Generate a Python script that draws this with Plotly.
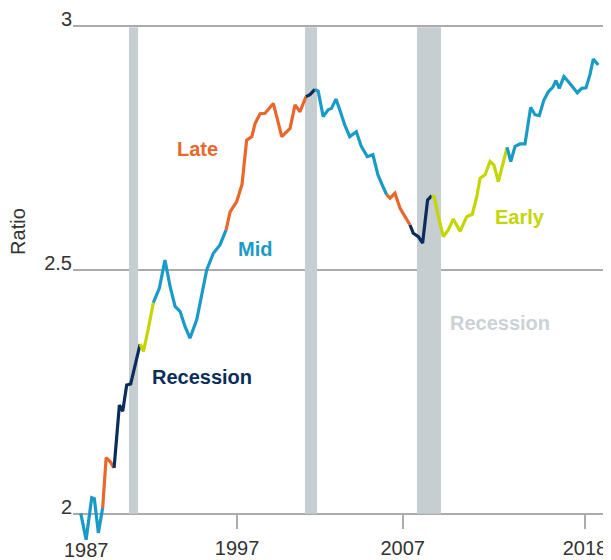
import plotly.graph_objects as go

# quarterly-ish readings of the ratio, with business-cycle phase per point
years = [1987.57, 1987.89, 1988.23, 1988.39, 1988.63, 1988.89,
         1989.10, 1989.34, 1989.58,
         1989.90, 1990.10, 1990.34, 1990.58, 1990.95, 1991.15,
         1991.35, 1991.65, 1991.95,
         1992.31, 1992.65, 1992.96, 1993.26, 1993.56, 1993.86, 1994.16, 1994.57,
         1994.87, 1995.17, 1995.57, 1995.97, 1996.34,
         1996.58, 1996.98, 1997.30, 1997.58, 1997.89, 1998.09, 1998.39, 1998.69,
         1999.19, 1999.70, 2000.20, 2000.50, 2000.80, 2001.16,
         2001.40, 2001.70,
         2001.90, 2002.20, 2002.50, 2002.70, 2002.97, 2003.20, 2003.50, 2003.80,
         2004.20, 2004.50, 2004.86, 2005.20, 2005.50, 2005.80, 2006.03,
         2006.23, 2006.53, 2006.84, 2007.14, 2007.44,
         2007.64, 2007.94, 2008.20, 2008.50, 2008.75,
         2008.90, 2009.15, 2009.45, 2009.75, 2010.05, 2010.46, 2010.86, 2011.20,
         2011.47, 2011.67, 2011.97, 2012.27, 2012.50, 2012.77, 2013.07, 2013.30,
         2013.52, 2013.78, 2014.08, 2014.38, 2014.72, 2014.98, 2015.24, 2015.52,
         2015.79, 2016.05, 2016.25, 2016.45, 2016.73, 2016.99, 2017.26, 2017.54,
         2017.80, 2018.06, 2018.30, 2018.50, 2018.80]

ratio = [2.001, 1.947, 2.033, 2.031, 1.961, 2.012,
         2.115, 2.107, 2.094,
         2.223, 2.210, 2.264, 2.266, 2.315, 2.348,
         2.333, 2.380, 2.433,
         2.462, 2.520, 2.466, 2.425, 2.415, 2.384, 2.360, 2.398,
         2.452, 2.500, 2.534, 2.551, 2.582,
         2.619, 2.640, 2.675, 2.766, 2.773, 2.800, 2.820, 2.821,
         2.841, 2.773, 2.790, 2.838, 2.824, 2.855,
         2.859, 2.870,
         2.866, 2.814, 2.828, 2.831, 2.850, 2.828, 2.797, 2.773,
         2.783, 2.753, 2.732, 2.736, 2.695, 2.671, 2.654,
         2.647, 2.657, 2.626, 2.609, 2.592,
         2.575, 2.568, 2.555, 2.643, 2.652,
         2.650, 2.609, 2.568, 2.582, 2.604, 2.579, 2.609, 2.614,
         2.650, 2.688, 2.695, 2.722, 2.715, 2.681, 2.719, 2.751,
         2.722, 2.753, 2.758, 2.758, 2.833, 2.818, 2.816, 2.848,
         2.865, 2.874, 2.888, 2.872, 2.896, 2.886, 2.874, 2.863,
         2.872, 2.873, 2.900, 2.932, 2.920]

phase = (["Mid"] * 6 + ["Late"] * 3 + ["Recession"] * 6 + ["Early"] * 3
         + ["Mid"] * 13 + ["Late"] * 14 + ["Recession"] * 2 + ["Mid"] * 15
         + ["Late"] * 5 + ["Recession"] * 5 + ["Early"] * 16 + ["Mid"] * 21)

recessions = [(1990.48, 1991.03), (2001.10, 2001.83), (2007.86, 2009.31)]

colors = {"Early": "#C4D600", "Mid": "#1A9BC7",
          "Late": "#E8682C", "Recession": "#0B2D5B"}

fig = go.Figure()

# split into runs of the same phase; each run starts at the previous run's last point
start = 0
for i in range(1, len(years) + 1):
    if i == len(years) or phase[i] != phase[start]:
        s = max(start - 1, 0)
        fig.add_trace(go.Scatter(x=years[s:i], y=ratio[s:i], mode="lines",
                                 line=dict(color=colors[phase[start]], width=3.2),
                                 hoverinfo="skip"))
        start = i

for x0, x1 in recessions:
    fig.add_shape(type="rect", x0=x0, x1=x1, y0=2, y1=2.997, xref="x", yref="y",
                  fillcolor="#C7CED2", line_width=0, layer="between")

labels = [("Late", 1994.59, 2.748, colors["Late"]),
          ("Mid", 1998.09, 2.543, colors["Mid"]),
          ("Recession", 1994.89, 2.281, colors["Recession"]),
          ("Early", 2014.08, 2.609, colors["Early"]),
          ("Recession", 2012.87, 2.391, "#CBD2D6")]
for txt, x, y, c in labels:
    fig.add_annotation(x=x, y=y, text="<b>%s</b>" % txt, showarrow=False,
                       font=dict(size=20, color=c))

ymin, ymax = 1.93, 3.01
fig.add_annotation(x=1987.9, yref="paper", y=-0.004, yanchor="middle",
                   text="1987", showarrow=False,
                   font=dict(size=20, color="#333333"))
fig.add_annotation(xref="paper", x=-0.102, xanchor="center", y=2.578, text="Ratio",
                   textangle=-90, showarrow=False,
                   font=dict(size=20, color="#333333"))

fig.update_layout(
    width=611, height=560,
    margin=dict(l=65, r=8, t=13, b=20),
    plot_bgcolor="white", paper_bgcolor="white",
    showlegend=False,
    font=dict(family="Liberation Sans, Arial, sans-serif", size=20, color="#333333"),
    xaxis=dict(range=[1987.1, 2019.57], tickvals=[1997, 2007, 2018],
               ticks="outside", ticklen=14, tickwidth=1.5, tickcolor="#ABABAB",
               showgrid=False, zeroline=False, showline=False,
               anchor="free", position=(2 - ymin) / (ymax - ymin),
               ticklabelstandoff=2, automargin=False),
    yaxis=dict(range=[ymin, ymax], tickvals=[2, 2.5, 3], ticktext=["2", "2.5", "3"],
               showgrid=True, gridcolor="#ABABAB", gridwidth=1.5,
               zeroline=False, showline=False, ticks="",
               ticklabelposition="outside", ticklabelshift=-7,
               ticklabeloverflow="allow", automargin=False),
)

fig.write_html("out.html")
